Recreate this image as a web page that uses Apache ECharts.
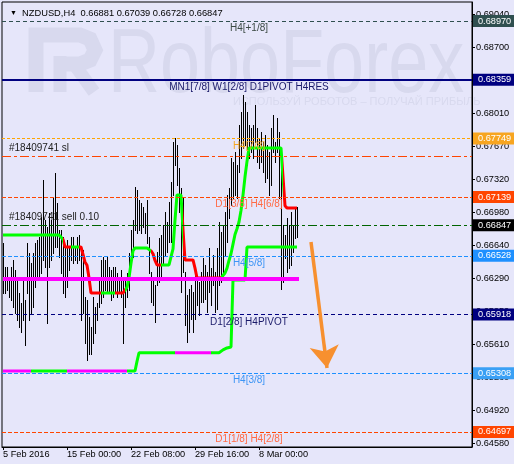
<!DOCTYPE html>
<html>
<head>
<meta charset="utf-8">
<script src="https://cdn.jsdelivr.net/npm/echarts@6/dist/echarts.min.js"></script>
<style>
html, body { margin: 0; padding: 0; background: #e6e6fa; }
#chart { width: 514px; height: 464px; }
</style>
</head>
<body>
<div id="chart"></div>
<script>
// ---- data ----
const symbolName = 'NZDUSD,H4';
const lastBar = [0.66881, 0.67039, 0.66728, 0.66847];

// H4 bars, high / low
const barHigh = [
  0.66657, 0.66414, 0.66414, 0.66310, 0.66414, 0.66484, 0.66380, 0.66310, 0.66137, 0.66033,
  0.66276, 0.66067, 0.66657, 0.66553, 0.66449, 0.66553, 0.66657, 0.66692, 0.66726, 0.66935,
  0.67317, 0.66900, 0.66831, 0.66970, 0.66900, 0.67143, 0.67386, 0.67074, 0.66796, 0.66796,
  0.66726, 0.66622, 0.66692, 0.66622, 0.66726, 0.66726, 0.66622, 0.66726, 0.66744, 0.66553,
  0.66588, 0.66102, 0.66067, 0.65894, 0.65790, 0.66102, 0.65998, 0.66033, 0.66310, 0.66484,
  0.66518, 0.66484, 0.66518, 0.66414, 0.66380, 0.66414, 0.66414, 0.66345, 0.66310, 0.66380,
  0.66276, 0.66276, 0.66345, 0.66553, 0.66796, 0.66900, 0.67247, 0.67213, 0.67108, 0.67074,
  0.67039, 0.66970, 0.67108, 0.66726,
  0.66362, 0.66293, 0.66223, 0.66570, 0.66709, 0.66744, 0.66848, 0.66986, 0.66882, 0.67091,
  0.67299, 0.67715, 0.67750, 0.67680, 0.67438, 0.67229, 0.67125, 0.66362, 0.66119, 0.66188,
  0.66223, 0.66154, 0.66362, 0.66293, 0.66258, 0.66362, 0.66501, 0.66431, 0.66362, 0.66605,
  0.66397, 0.66535, 0.66362, 0.66605, 0.66882, 0.66778, 0.66848, 0.66986, 0.67160, 0.67229,
  0.67542, 0.67507, 0.67611, 0.67472, 0.67889, 0.68027, 0.68201, 0.68132, 0.68027, 0.67889,
  0.67854, 0.67889, 0.68097, 0.67854, 0.67750, 0.67819, 0.67715, 0.67785, 0.67680, 0.67611,
  0.67854, 0.67993, 0.67715, 0.67958, 0.67819, 0.67646, 0.66848, 0.66744, 0.66917, 0.66848,
  0.66986, 0.66848, 0.67021, 0.67039
];
const barLow = [
  0.66137, 0.66137, 0.66171, 0.66102, 0.66067, 0.65998, 0.65929, 0.65860, 0.65790, 0.65738,
  0.65860, 0.65599, 0.66137, 0.65860, 0.65929, 0.65998, 0.66206, 0.66310, 0.66276, 0.66345,
  0.66484, 0.66414, 0.65825, 0.66414, 0.66484, 0.66553, 0.66622, 0.66622, 0.66518, 0.66345,
  0.66137, 0.66102, 0.66206, 0.66380, 0.66484, 0.66449, 0.66484, 0.66449, 0.66484, 0.65860,
  0.65929, 0.65617, 0.65443, 0.65512, 0.65512, 0.65617, 0.65721, 0.65860, 0.65998, 0.66033,
  0.66102, 0.66171, 0.66137, 0.66137, 0.66067, 0.66102, 0.66137, 0.66102, 0.66137, 0.66102,
  0.65617, 0.65998, 0.66102, 0.66171, 0.66484, 0.66518, 0.66796, 0.66761, 0.66796, 0.66761,
  0.66831, 0.66761, 0.66657, 0.66345,
  0.66050, 0.66015, 0.65841, 0.66223, 0.66258, 0.66293, 0.66431, 0.66535, 0.66570, 0.66674,
  0.66674, 0.67160, 0.67472, 0.67264, 0.66986, 0.66154, 0.66362, 0.65807, 0.65633, 0.65737,
  0.65876, 0.65737, 0.65876, 0.66015, 0.65911, 0.66050, 0.66050, 0.66084, 0.65946, 0.66154,
  0.66015, 0.66223, 0.65946, 0.65980, 0.66223, 0.66258, 0.66362, 0.66535, 0.66674, 0.66917,
  0.67056, 0.67125, 0.67160, 0.67125, 0.67403, 0.67542, 0.67646, 0.67680, 0.67472, 0.67542,
  0.67611, 0.67542, 0.67715, 0.67507, 0.67438, 0.67507, 0.67403, 0.67299, 0.67333, 0.67160,
  0.67264, 0.67611, 0.67507, 0.67611, 0.67125, 0.66188, 0.66258, 0.66501, 0.66362, 0.66397,
  0.66431, 0.66570, 0.66709, 0.66728
];

// fast step indicator (green = up, red = down)
const fastLine = [
  0.66745, 0.66745, 0.66745, 0.66745, 0.66745, 0.66745, 0.66745, 0.66745, 0.66745, 0.66745,
  0.66745, 0.66745, 0.66745, 0.66745, 0.66745, 0.66745, 0.66745, 0.66745, 0.66745, 0.66745,
  0.66745, 0.66745, 0.66745, 0.66745, 0.66745, 0.66745, 0.66745, 0.66745, 0.66745, 0.66745,
  0.66700, 0.66620, 0.66620, 0.66620, 0.66620, 0.66620, 0.66620, 0.66620, 0.66620, 0.66620,
  0.66620, 0.66464, 0.66430, 0.66300, 0.66142, 0.66142, 0.66142, 0.66142, 0.66142, 0.66142,
  0.66142, 0.66142, 0.66142, 0.66142, 0.66142, 0.66142, 0.66142, 0.66142, 0.66142, 0.66142,
  0.66142, 0.66142, 0.66200, 0.66300, 0.66450, 0.66580, 0.66610, 0.66610, 0.66610, 0.66610,
  0.66610, 0.66610, 0.66610, 0.66610, 0.66580, 0.66550, 0.66480, 0.66433, 0.66433, 0.66433,
  0.66433, 0.66433, 0.66433, 0.66433, 0.66433, 0.66600, 0.66900, 0.67161, 0.67161, 0.67161,
  0.66800, 0.66485, 0.66485, 0.66485, 0.66485, 0.66485, 0.66400, 0.66298, 0.66298, 0.66298,
  0.66298, 0.66298, 0.66298, 0.66298, 0.66298, 0.66298, 0.66298, 0.66298, 0.66298, 0.66298,
  0.66298, 0.66350, 0.66400, 0.66480, 0.66550, 0.66650, 0.66750, 0.66810, 0.66880, 0.67000,
  0.67160, 0.67350, 0.67510, 0.67650, 0.67650, 0.67650, 0.67650, 0.67650, 0.67650, 0.67650,
  0.67650, 0.67650, 0.67650, 0.67650, 0.67650, 0.67650, 0.67650, 0.67650, 0.67650, 0.67650,
  0.67350, 0.67050, 0.67026, 0.67026, 0.67026, 0.67026, 0.67026, 0.67026
];
const fastTrend = [[0, 29, 1], [30, 33, -1], [34, 37, 1], [38, 48, -1], [49, 55, 1], [56, 60, -1],
  [61, 73, 1], [74, 78, -1], [79, 89, 1], [90, 108, -1], [109, 139, 1], [140, 147, -1]];

// slow step indicator (green = up, magenta = flat)
const slowLine = [
  0.65331, 0.65331, 0.65331, 0.65331, 0.65331, 0.65331, 0.65331, 0.65331, 0.65331, 0.65331,
  0.65331, 0.65331, 0.65331, 0.65331, 0.65331, 0.65331, 0.65331, 0.65331, 0.65331, 0.65331,
  0.65331, 0.65331, 0.65331, 0.65331, 0.65331, 0.65331, 0.65331, 0.65331, 0.65331, 0.65331,
  0.65331, 0.65331, 0.65331, 0.65331, 0.65331, 0.65331, 0.65331, 0.65331, 0.65331, 0.65331,
  0.65331, 0.65331, 0.65331, 0.65331, 0.65331, 0.65331, 0.65331, 0.65331, 0.65331, 0.65331,
  0.65331, 0.65331, 0.65331, 0.65331, 0.65331, 0.65331, 0.65331, 0.65331, 0.65331, 0.65331,
  0.65331, 0.65331, 0.65331, 0.65331, 0.65331, 0.65331, 0.65331, 0.65430, 0.65520, 0.65520,
  0.65520, 0.65520, 0.65520, 0.65520, 0.65520, 0.65520, 0.65520, 0.65520, 0.65520, 0.65520,
  0.65520, 0.65520, 0.65520, 0.65520, 0.65520, 0.65520, 0.65520, 0.65520, 0.65520, 0.65520,
  0.65520, 0.65520, 0.65520, 0.65520, 0.65520, 0.65520, 0.65520, 0.65520, 0.65520, 0.65520,
  0.65520, 0.65520, 0.65520, 0.65520, 0.65520, 0.65520, 0.65520, 0.65520, 0.65520, 0.65520,
  0.65550, 0.65560, 0.65570, 0.65580, 0.65580, 0.66277, 0.66277, 0.66277, 0.66277, 0.66277,
  0.66277, 0.66277, 0.66620, 0.66620, 0.66620, 0.66620, 0.66620, 0.66620, 0.66620, 0.66620,
  0.66620, 0.66620, 0.66620, 0.66620, 0.66620, 0.66620, 0.66620, 0.66620, 0.66620, 0.66620,
  0.66620, 0.66620, 0.66620, 0.66620, 0.66620, 0.66620, 0.66620, 0.66620
];
const slowTrend = [[0, 13, 0], [14, 31, 1], [32, 61, 0], [62, 85, 1], [86, 103, 0], [104, 147, 1]];

// flat magenta line
const flatLine = [[0, 0.66287], [148, 0.66287]];

// x axis
const slotCount = 235;
const tickIndex = [0, 32, 64, 96, 128];
const tickLabels = ['5 Feb 2016', '15 Feb 00:00', '22 Feb 08:00', '29 Feb 16:00', '8 Mar 00:00'];

// y axis
const priceTicks = [0.69040, 0.68700, 0.68360, 0.68010, 0.67670, 0.67320, 0.66980,
  0.66640, 0.66290, 0.65950, 0.65610, 0.65260, 0.64920, 0.64580];

// horizontal levels
const levelValues = [0.68970, 0.68359, 0.67749, 0.67566, 0.67139, 0.66847, 0.66528, 0.65918, 0.65308, 0.64697];
const levelNames = ['H4[+1/8]', 'MN1[7/8] W1[2/8] D1PIVOT H4RES', 'H4[7/8]', '#18409741 sl',
  'D1[3/8] H4[6/8]', '#18409741 sell 0.10', 'H4[5/8]', 'D1[2/8] H4PIVOT', 'H4[3/8]', 'D1[1/8] H4[2/8]'];
const levelTagged = [true, true, true, false, true, true, true, true, true, true];

// drawn arrow [bar index, price]
const arrowFrom = [153.5, 0.66672];
const arrowTo = [161.5, 0.65362];

// ---- styles ----
const FONT = 'Liberation Sans, Arial, sans-serif';
const GREEN = '#00ff00', RED = '#ff0000', MAGENTA = '#ff00ff';
const WM = '#d8d9ee';
const levelStyle = [
  { line: '#2f4f4f', type: [4, 3], width: 1, tag: '#2f4f4f', text: '#3c4a44', left: false },
  { line: '#000080', type: 'solid', width: 2, tag: '#000080', text: '#1a1a6a', left: false },
  { line: '#ffa500', type: [3, 2], width: 1, tag: '#f7a520', text: '#f5a623', left: false },
  { line: '#ff4500', type: [9, 3, 3, 3], width: 1, tag: null, text: '#222222', left: true },
  { line: '#ff4500', type: [4, 2], width: 1, tag: '#ff4500', text: '#ff6a45', left: false },
  { line: '#006400', type: [9, 3, 3, 3], width: 1, tag: '#000000', text: '#222222', left: true },
  { line: '#1e90ff', type: [4, 2], width: 1, tag: '#1e90ff', text: '#3d95f5', left: false },
  { line: '#000080', type: [4, 3], width: 1, tag: '#000080', text: '#1a1a6a', left: false },
  { line: '#1e90ff', type: [4, 2], width: 1, tag: '#3aa0f5', text: '#3d95f5', left: false },
  { line: '#ff4500', type: [4, 2], width: 1, tag: '#ff4500', text: '#ff6a45', left: false }
];

const categories = [];
for (let i = 0; i < slotCount; i++) categories.push(String(i));
const isTick = (i) => tickIndex.indexOf(i) >= 0;

const levelLines = levelValues.map((v, k) => {
  const s = levelStyle[k];
  return [
    { coord: [0, v], x: 2, lineStyle: { color: s.line, type: s.type, width: s.width },
      label: levelTagged[k] ? {
        show: true, position: 'end', distance: 1, formatter: v.toFixed(5),
        backgroundColor: s.tag, color: '#fff', padding: [2, 6, 1, 5],
        fontSize: 9.2, fontFamily: FONT
      } : { show: false } },
    { coord: [slotCount - 1, v], x: 472 }
  ];
});
levelLines.push([
  { coord: arrowFrom, symbol: 'none', lineStyle: { color: '#f7902f', width: 3.5, type: 'solid' },
    label: { show: false } },
  { coord: arrowTo, symbol: 'arrow', symbolSize: 22 }
]);

const levelTexts = levelValues.map((v, k) => {
  const s = levelStyle[k];
  return {
    coord: s.left ? [3, v] : [122.5, v],
    symbol: 'rect', symbolSize: 1, itemStyle: { color: 'rgba(0,0,0,0)' },
    label: {
      show: true, formatter: levelNames[k], color: s.text, fontSize: 10, fontFamily: FONT,
      position: s.left ? 'top' : 'bottom', distance: 2, align: s.left ? 'left' : 'center'
    }
  };
});

const trendPieces = (runs, colors) => runs.map(([a, b, s]) => ({ gte: a - 0.5, lt: b + 0.5, color: colors[s] }));

const chart = echarts.init(document.getElementById('chart'));
chart.setOption({
  animation: false,
  backgroundColor: '#e6e6fa',
  textStyle: { fontFamily: FONT },
  title: {
    text: '{t|▼}  ' + symbolName + '  ' + lastBar.map(v => v.toFixed(5)).join(' '),
    left: 5, top: 4,
    textStyle: { fontSize: 9.3, fontWeight: 'normal', color: '#000', fontFamily: FONT,
      rich: { t: { fontSize: 7, color: '#000' } } }
  },
  graphic: {
    elements: [
      { type: 'polyline', z: -1, silent: true,
        shape: { points: [[36, 92], [36, 35], [80, 35], [90, 39], [95, 50], [90, 60], [80, 64], [60, 64]] },
        style: { stroke: WM, lineWidth: 15, fill: null } },
      { type: 'line', z: -1, silent: true, shape: { x1: 60, y1: 56, x2: 60, y2: 92 },
        style: { stroke: WM, lineWidth: 13 } },
      { type: 'line', z: -1, silent: true, shape: { x1: 74, y1: 64, x2: 94, y2: 92 },
        style: { stroke: WM, lineWidth: 13 } },
      { type: 'text', z: -1, silent: true, x: 108, y: 22, scaleX: 0.8,
        style: { text: 'RoboForex', fill: WM, font: '90px ' + FONT } },
      { type: 'text', z: -1, silent: true, x: 233, y: 96,
        style: { text: 'ИСПОЛЬЗУЙ РОБОТОВ – ПОЛУЧАЙ ПРИБЫЛЬ', fill: WM, font: '11px ' + FONT } }
    ]
  },
  grid: { left: 2, right: 42, top: 2, bottom: 17, show: true, borderColor: '#000', borderWidth: 1,
    outerBoundsMode: 'none' },
  xAxis: {
    type: 'category', data: categories, boundaryGap: true,
    axisLine: { show: true, lineStyle: { color: '#000' } },
    axisTick: { show: true, alignWithLabel: true, interval: isTick, length: 3, lineStyle: { color: '#000' } },
    axisLabel: { interval: isTick, formatter: (v, i) => tickLabels[tickIndex.indexOf(i)],
      align: 'left', margin: 3, color: '#000', fontSize: 9.2, fontFamily: FONT },
    splitLine: { show: false }
  },
  yAxis: {
    type: 'value', position: 'right', min: 0.64540, max: 0.69168, scale: true,
    axisLine: { show: true, lineStyle: { color: '#000' } },
    axisTick: { show: true, customValues: priceTicks, length: 3, lineStyle: { color: '#000' } },
    axisLabel: { customValues: priceTicks, formatter: v => v.toFixed(5), color: '#000',
      fontSize: 9.2, margin: 4, fontFamily: FONT },
    splitLine: { show: false }
  },
  visualMap: [
    { type: 'piecewise', show: false, seriesIndex: 1, dimension: 0,
      pieces: trendPieces(fastTrend, { '1': GREEN, '-1': RED }) },
    { type: 'piecewise', show: false, seriesIndex: 2, dimension: 0,
      pieces: trendPieces(slowTrend, { '1': GREEN, '0': MAGENTA }) }
  ],
  series: [
    {
      type: 'custom', silent: true, z: 2,
      data: barHigh.map((h, i) => [i, h, barLow[i]]),
      encode: { x: 0, y: [1, 2] },
      renderItem: (params, api) => {
        const top = api.coord([api.value(0), api.value(1)]);
        const bot = api.coord([api.value(0), api.value(2)]);
        const x = Math.round(top[0]) + 0.5;
        return { type: 'line', shape: { x1: x, y1: Math.round(top[1]), x2: x, y2: Math.round(bot[1]) + 1 },
          style: { stroke: '#000', lineWidth: 1 } };
      }
    },
    { type: 'line', data: fastLine, symbol: 'none', silent: true, z: 3, lineStyle: { width: 3 } },
    { type: 'line', data: slowLine, symbol: 'none', silent: true, z: 3, lineStyle: { width: 3 } },
    {
      type: 'line', data: flatLine, symbol: 'none', silent: true, z: 4,
      lineStyle: { width: 4, color: MAGENTA }, itemStyle: { color: MAGENTA },
      markLine: { silent: true, symbol: ['none', 'none'], animation: false, data: levelLines },
      markPoint: { silent: true, animation: false, data: levelTexts }
    }
  ]
});
</script>
</body>
</html>
